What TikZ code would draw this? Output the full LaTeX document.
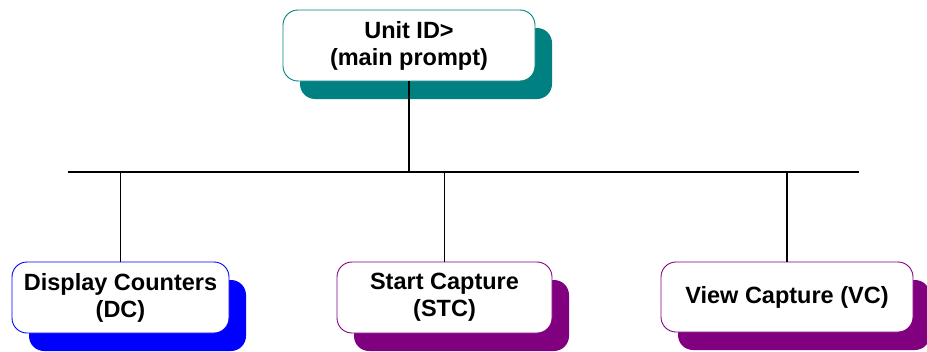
\documentclass[tikz,border=0pt]{standalone}
\usepackage{fontspec}
\setmainfont{Liberation Sans}
\usetikzlibrary{shadows}
\definecolor{shteal}{RGB}{0,128,128}
\definecolor{shblue}{RGB}{0,0,255}
\definecolor{shpurple}{RGB}{128,0,128}
\tikzset{
  menubox/.style n args={3}{draw=#1, fill=white, line width=0.9pt,
    rounded corners=15pt, align=center,
    minimum width=#2, minimum height=#3, inner sep=0pt,
    font=\fontsize{23.5}{27}\selectfont\bfseries,
    drop shadow={shadow xshift=17pt, shadow yshift=-18pt, fill=#1, opacity=1, draw=none}},
  wire/.style={draw=black, line width=1.2pt}
}
\begin{document}
\begin{tikzpicture}[x=1pt, y=-1pt]
  \useasboundingbox (0,0) rectangle (927,351);
  \clip (0,0) rectangle (927,351);

  % menu boxes
  \node[menubox={shteal}{252pt}{71pt}] (top) at (409,45.5) {Unit ID>\\(main prompt)};
  \node[menubox={shblue}{217pt}{71pt}] (dc) at (120.5,297.5) {Display Counters\\(DC)};
  \node[menubox={shpurple}{215pt}{71pt}] (stc) at (444.5,297.5) {Start Capture\\(STC)};
  \node[menubox={shpurple}{252pt}{70pt}] (vc) at (787,297) {View Capture (VC)};

  % bus line and branches
  \coordinate (busL) at (68,172);
  \coordinate (busR) at (859,172);
  \draw[wire] (busL) -- (busR);
  \draw[wire] (top.south) -- (top.south |- busL);
  \draw[wire] (dc.north) -- (dc.north |- busL);
  \draw[wire] (stc.north) -- (stc.north |- busL);
  \draw[wire] (vc.north) -- (vc.north |- busL);
\end{tikzpicture}
\end{document}
